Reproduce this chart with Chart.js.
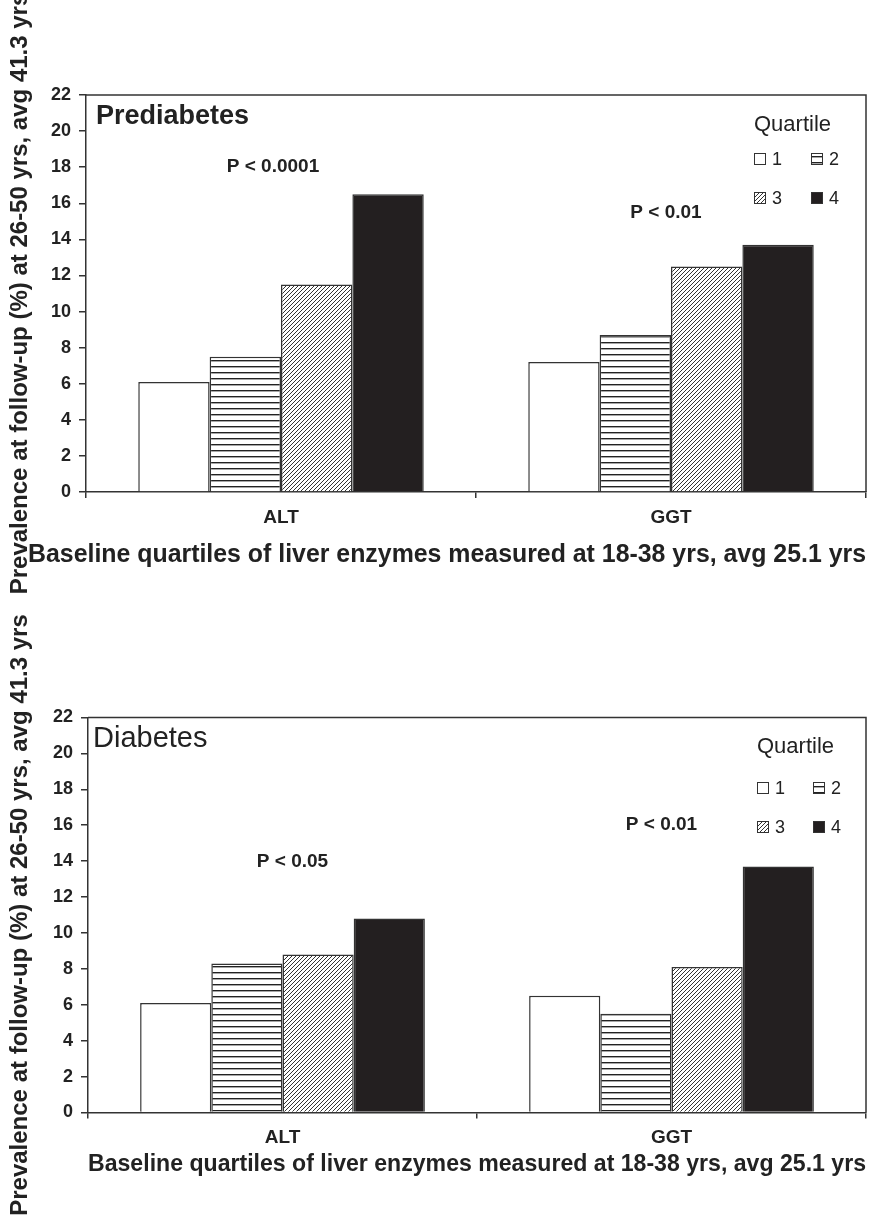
<!DOCTYPE html>
<html>
<head>
<meta charset="utf-8">
<script src="https://cdn.jsdelivr.net/npm/chart.js@4.4.1/dist/chart.umd.min.js"></script>
<style>
  html, body { margin: 0; padding: 0; background: #fff; }
  .panel { position: absolute; left: 0; width: 896px; }
  #top { top: 0; height: 612px; }
  #bottom { top: 612px; height: 611px; }
</style>
</head>
<body>
<div class="panel" id="top"><canvas id="pre"></canvas></div>
<div class="panel" id="bottom"><canvas id="dia"></canvas></div>
<script>
const categories = ["ALT", "GGT"];
const quartiles = ["1", "2", "3", "4"];

// prediabetes, % by quartile
const preQ1 = [6.1, 7.2];
const preQ2 = [7.5, 8.7];
const preQ3 = [11.5, 12.5];
const preQ4 = [16.5, 13.7];

// diabetes, % by quartile
const diaQ1 = [6.1, 6.5];
const diaQ2 = [8.3, 5.5];
const diaQ3 = [8.8, 8.1];
const diaQ4 = [10.8, 13.7];

const prePValues = ["P < 0.0001", "P < 0.01"];
const diaPValues = ["P < 0.05", "P < 0.01"];

const yTitle = "Prevalence at follow-up (%) at 26-50 yrs, avg 41.3 yrs";
const xTitle = "Baseline quartiles of liver enzymes measured at 18-38 yrs, avg 25.1 yrs";

const FONT = "'Liberation Sans', Arial, sans-serif";
const INK = "#222";
const LINE = "#333";
Chart.defaults.font.family = FONT;
Chart.defaults.color = INK;

function hatch(kind) {
  const c = document.createElement("canvas");
  const g = c.getContext("2d");
  if (kind === "h") {
    c.width = 8; c.height = 6;
    g.fillStyle = "#fff"; g.fillRect(0, 0, 8, 6);
    g.fillStyle = "#222"; g.fillRect(0, 0, 8, 1.4);
  } else {
    c.width = 4; c.height = 4;
    g.fillStyle = "#fff"; g.fillRect(0, 0, 4, 4);
    g.strokeStyle = "#333"; g.lineWidth = 1;
    g.beginPath();
    g.moveTo(0, 4); g.lineTo(4, 0);
    g.moveTo(-1, 1); g.lineTo(1, -1);
    g.moveTo(3, 5); g.lineTo(5, 3);
    g.stroke();
  }
  return g.createPattern(c, "repeat");
}

const fills = ["#ffffff", hatch("h"), hatch("d"), "#231f20"];

// frame, panel name, p-values and the quartile key
const extras = {
  id: "extras",
  afterDraw(chart, args, o) {
    const { ctx, chartArea: a, scales } = chart;
    ctx.save();
    ctx.strokeStyle = LINE;
    ctx.lineWidth = 1.5;
    ctx.beginPath();
    ctx.moveTo(a.left, a.top);
    ctx.lineTo(a.right, a.top);
    ctx.lineTo(a.right, a.bottom);
    ctx.stroke();

    ctx.fillStyle = INK;
    ctx.textBaseline = "middle";
    ctx.textAlign = "left";
    ctx.font = o.panelFont;
    ctx.fillText(o.panel, a.left + o.panelAt[0], a.top + o.panelAt[1]);

    ctx.font = "bold 19px " + FONT;
    ctx.textAlign = "center";
    o.pText.forEach((t, i) => {
      const x = scales.x.getPixelForValue(i) + o.pAt[i][0];
      const y = scales.y.getPixelForValue(o.pAt[i][1]);
      ctx.fillText(t, x, y);
    });

    // key
    const kx = a.right - o.key.right;
    ctx.textAlign = "left";
    ctx.font = "22px " + FONT;
    ctx.fillText("Quartile", kx, a.top + o.key.rows[0]);
    ctx.font = "18px " + FONT;
    chart.data.datasets.forEach((ds, i) => {
      const x = kx + (i % 2) * o.key.col;
      const y = a.top + o.key.rows[1 + Math.floor(i / 2)];
      ctx.fillStyle = ds.backgroundColor;
      ctx.fillRect(x, y - 6, 12, 12);
      ctx.strokeStyle = LINE;
      ctx.lineWidth = 1;
      ctx.strokeRect(x + 0.5, y - 5.5, 11, 11);
      ctx.fillStyle = INK;
      ctx.fillText(ds.label, x + 18, y + 1);
    });
    ctx.restore();
  },
};

function makeChart(id, series, cfg) {
  return new Chart(document.getElementById(id), {
    type: "bar",
    data: {
      labels: categories,
      datasets: series.map((vals, i) => ({
        label: quartiles[i],
        data: vals,
        backgroundColor: fills[i],
        borderColor: LINE,
        borderWidth: 1.5,
      })),
    },
    options: {
      responsive: true,
      maintainAspectRatio: false,
      animation: false,
      layout: { padding: cfg.padding },
      datasets: { bar: { categoryPercentage: 0.732, barPercentage: 1 } },
      plugins: {
        legend: { display: false },
        tooltip: { enabled: false },
        title: cfg.chartTitle
          ? {
              display: true,
              position: "bottom",
              text: xTitle,
              color: INK,
              font: { size: 25.5, weight: "bold", lineHeight: 1.2 },
              padding: { top: 0, bottom: 41.7 },
            }
          : { display: false },
        extras: cfg.extras,
      },
      scales: {
        x: {
          grid: { offset: true, drawOnChartArea: false, tickLength: 6, color: LINE, lineWidth: 1.5 },
          border: { color: LINE, width: 1.5 },
          ticks: { color: INK, font: { size: 19, weight: "bold" }, padding: 8 },
          title: cfg.chartTitle
            ? { display: false }
            : {
                display: true,
                text: xTitle,
                color: INK,
                font: { size: 24.3, weight: "bold", lineHeight: 1.2 },
                padding: { top: 0, bottom: 43.9 },
              },
          afterFit: (s) => { s.height = cfg.xHeight; },
        },
        y: {
          min: 0,
          max: 22,
          grid: { drawOnChartArea: false, tickLength: 7, color: LINE, lineWidth: 1.5 },
          border: { color: LINE, width: 1.5 },
          ticks: { stepSize: 2, color: INK, font: { size: 18, weight: "bold" }, padding: 8 },
          title: {
            display: true,
            text: yTitle,
            color: INK,
            font: { size: 24, weight: "bold", lineHeight: 1.2 },
            padding: { top: cfg.yTitlePad, bottom: 0 },
          },
          afterFit: (s) => { s.width = cfg.yWidth; },
        },
      },
    },
    plugins: [extras],
  });
}

makeChart("pre", [preQ1, preQ2, preQ3, preQ4], {
  chartTitle: true,
  padding: { top: 95, right: 30, left: 28, bottom: 0 },
  yWidth: 58,
  yTitlePad: -22.4,
  xHeight: 47.7,
  extras: {
    panel: "Prediabetes",
    panelFont: "bold 27px " + FONT,
    panelAt: [10, 22],
    pText: prePValues,
    pAt: [[-8, 18.05], [-5, 15.5]],
    key: { right: 112, col: 57, rows: [30, 64, 103] },
  },
});

makeChart("dia", [diaQ1, diaQ2, diaQ3, diaQ4], {
  chartTitle: false,
  padding: { top: 105.5, right: 30, left: 0, bottom: 0 },
  yWidth: 88,
  yTitlePad: 5.6,
  xHeight: 110.5,
  extras: {
    panel: "Diabetes",
    panelFont: "29px " + FONT,
    panelAt: [5, 21],
    pText: diaPValues,
    pAt: [[10, 13.95], [-10, 16.0]],
    key: { right: 109, col: 56, rows: [29, 70.5, 109.5] },
  },
});
</script>
</body>
</html>
